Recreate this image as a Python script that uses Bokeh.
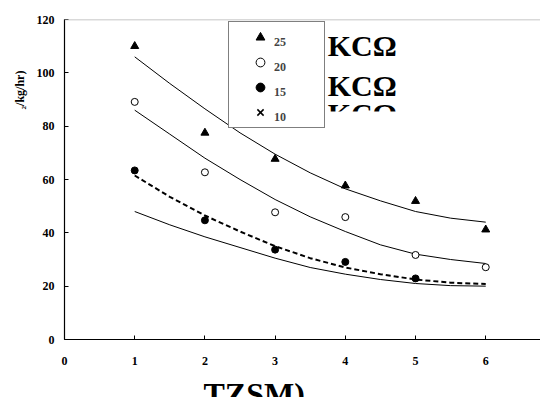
from bokeh.plotting import figure
from bokeh.models import Legend, LegendItem, Label, Span, FixedTicker, Title, BoxAnnotation
from bokeh.embed import file_html
from bokeh.resources import INLINE

# ---- data ----
days = [1, 2, 3, 4, 5, 6]
t25 = [110, 77.5, 67.7, 57.7, 51.9, 41.2]
t20 = [89.1, 62.7, 47.7, 45.9, 31.7, 27.1]
t15_x = [1, 2, 3, 4, 5]
t15 = [63.4, 44.7, 33.7, 29.1, 22.9]
t10_x = [1]
t10 = [float("nan")]   # no visible crosses in the picture

fit_x = [1, 1.5, 2, 2.5, 3, 3.5, 4, 4.5, 5, 5.5, 6]
fit25 = [106, 96, 86.5, 77.5, 69.5, 62.5, 56.5, 52, 48, 45.5, 44]
fit20 = [86, 77, 68, 60, 52.5, 46, 40.5, 35.5, 32, 30, 28.5]
fit15 = [61.5, 53.5, 46.5, 40.5, 35, 30.5, 27, 24.5, 22.5, 21.3, 20.8]
fit10 = [48, 43, 38.5, 34.5, 30.5, 27, 24.5, 22.5, 21, 20.2, 20]

x_ticks = [0, 1, 2, 3, 4, 5, 6]
y_ticks = [0, 20, 40, 60, 80, 100, 120]
legend_labels = ["25", "20", "15", "10"]
y_title = "₂/kg/hr)"
x_title = "TZSM)"
suffix_text = "KCΩ"

SERIF = "Liberation Serif"

p = figure(frame_width=476, frame_height=320, min_border_left=64, min_border_right=0,
           min_border_top=19, min_border_bottom=10,
           x_range=(0, 6.78), y_range=(0, 120),
           output_backend="svg", toolbar_location=None)
p.outline_line_color = None
p.xgrid.visible = False
p.ygrid.visible = False
p.background_fill_color = "white"
p.border_fill_color = "white"

for ax in (p.xaxis[0], p.yaxis[0]):
    ax.axis_line_color = "black"
    ax.axis_line_width = 1.2
    ax.major_tick_in = 4
    ax.major_tick_out = 0
    ax.minor_tick_line_color = None
    ax.major_label_text_font = SERIF
    ax.major_label_text_font_style = "bold"
    ax.major_label_text_font_size = "12px"
    ax.major_label_text_color = "black"
p.xaxis[0].ticker = FixedTicker(ticks=x_ticks)
p.yaxis[0].ticker = FixedTicker(ticks=y_ticks)
p.xaxis[0].major_label_standoff = 17
p.yaxis[0].major_label_standoff = 10

p.add_layout(Span(location=120, dimension="width", line_color="#b4b4b4", line_width=1.5))

# fitted curves
p.line(fit_x, fit25, line_color="black", line_width=1)
p.line(fit_x, fit20, line_color="black", line_width=1)
p.line(fit_x, fit15, line_color="black", line_width=2, line_dash="5 3")
p.line(fit_x, fit10, line_color="black", line_width=1)

r25 = p.scatter(days, t25, marker="triangle", size=8, fill_color="black", line_color="black")
r20 = p.scatter(days, t20, marker="circle", size=7, fill_color="white", line_color="black", line_width=1)
r15 = p.scatter(t15_x, t15, marker="circle", size=7, fill_color="black", line_color="black")
r10 = p.scatter(t10_x, t10, marker="x", size=7, line_color="black", line_width=1.5)

# legend box with markers (labels drawn by a second, frameless legend)
legend_marks = Legend(items=[LegendItem(label="", renderers=[r]) for r in (r25, r20, r15, r10)],
                      location=(164, 211), padding=4, spacing=3,
                      glyph_width=54, glyph_height=22, label_standoff=0, label_width=33,
                      border_line_color="black", border_line_width=1,
                      background_fill_color="white", background_fill_alpha=1,
                      label_text_font_size="12px", margin=0)
p.add_layout(legend_marks, "center")

ghost = p.scatter([], [], marker="circle", size=7, fill_alpha=0, line_alpha=0)
legend_text = Legend(items=[LegendItem(label=lab, renderers=[ghost]) for lab in legend_labels],
                     location=(164, 211), padding=4, spacing=3,
                     glyph_width=46, glyph_height=22, label_standoff=0, label_width=30,
                     border_line_color=None, background_fill_alpha=0,
                     label_text_font=SERIF, label_text_font_style="bold",
                     label_text_font_size="12px", margin=0)
p.add_layout(legend_text, "center")

# overlapping legend suffixes next to the legend box (only top parts visible)
for yy in [116.5, 101.5, 91]:
    p.add_layout(Label(x=3.75, y=yy, text=suffix_text, text_font=SERIF, text_font_style="bold",
                       text_font_size="30px", text_color="black", text_baseline="top",
                       background_fill_color="white", background_fill_alpha=1))
p.add_layout(BoxAnnotation(left=3.7, right=5.0, top=85.5, bottom=79, fill_color="white",
                           fill_alpha=1, line_color=None))

# axis titles (only partly visible in the original)
p.add_layout(Title(text=y_title, align="left", offset=230, standoff=14,
                   text_font=SERIF, text_font_style="bold", text_font_size="12px",
                   text_color="black"), "left")
p.add_layout(Title(text=x_title, align="left", offset=139, standoff=13,
                   text_font=SERIF, text_font_style="bold", text_font_size="32px",
                   text_color="black"), "below")

open("out.html", "w").write(file_html(p, INLINE))
